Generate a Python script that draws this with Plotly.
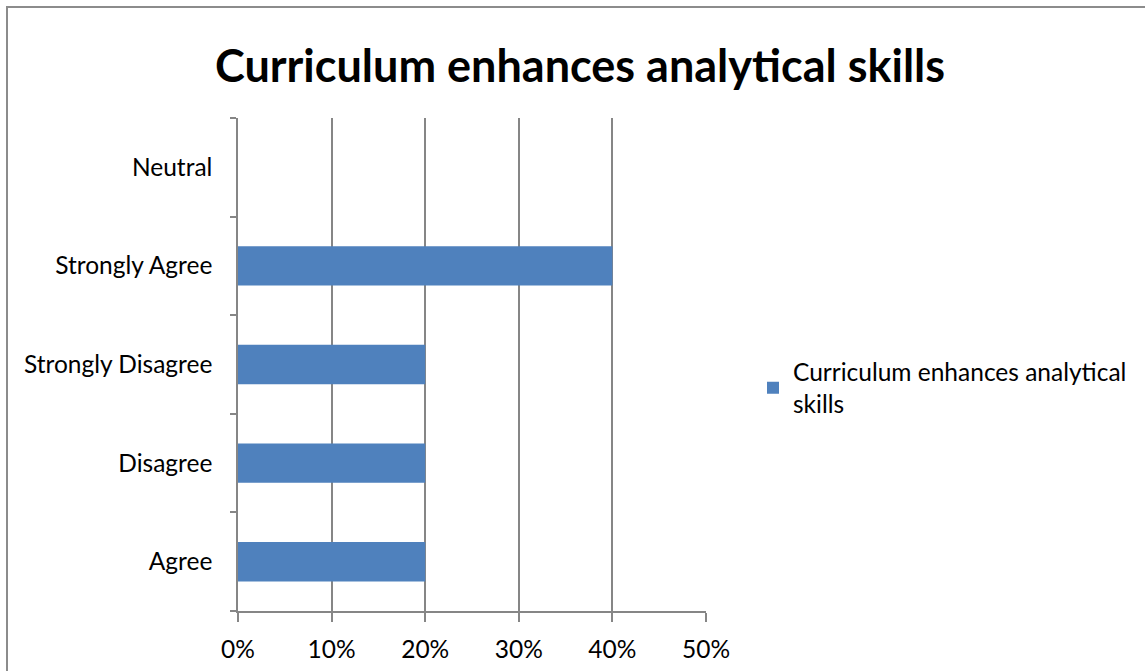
import plotly.graph_objects as go

categories = ["Agree", "Disagree", "Strongly Disagree", "Strongly Agree", "Neutral"]
values = [0.20, 0.20, 0.20, 0.40, 0.0]
series_name = "Curriculum enhances analytical skills"
x_ticks = [0, 0.1, 0.2, 0.3, 0.4, 0.5]

W, H = 1145, 671
L, R, T, B = 238, 1145 - 706, 118, 671 - 611
pw, ph = W - L - R, H - T - B

fig = go.Figure()
fig.add_trace(go.Bar(
    x=values, y=categories, orientation="h",
    name="Curriculum enhances analytical<br>skills",
    marker=dict(color="#4F81BD", line=dict(width=0)),
))

font_family = "Lato, Carlito, Calibri, sans-serif"
fig.update_layout(
    width=W, height=H,
    margin=dict(l=L, r=R, t=T, b=B, autoexpand=False),
    paper_bgcolor="white", plot_bgcolor="white",
    bargap=0.6,
    showlegend=True,
    font=dict(family=font_family, color="#000000", size=24.5),
    title=dict(text="<b>" + series_name + "</b>", x=580 / W, xref="container",
               xanchor="center", y=1 - 66 / H, yref="container", yanchor="middle",
               font=dict(size=45, family=font_family, color="#000000")),
    legend=dict(x=(753 - L) / pw, xanchor="left", y=(611 - 388) / ph, yanchor="middle",
                font=dict(size=24.5, family=font_family), bgcolor="rgba(0,0,0,0)",
                itemwidth=30, traceorder="normal"),
    xaxis=dict(range=[0, 0.5], tickvals=x_ticks, tickformat=".0%",
               showgrid=True, gridcolor="#868686", gridwidth=1.5,
               showline=True, linecolor="#868686", linewidth=1.5,
               ticks="outside", ticklen=9, tickcolor="#868686", tickwidth=1.5,
               ticklabelstandoff=7, zeroline=False, fixedrange=True,
               automargin=False, tickfont=dict(size=24.5)),
    yaxis=dict(categoryorder="array", categoryarray=categories,
               showgrid=False, showline=True, linecolor="#868686", linewidth=1.5,
               ticks="outside", tickson="boundaries", ticklen=6,
               tickcolor="#868686", tickwidth=1.5, ticklabelstandoff=19,
               zeroline=False, fixedrange=True, automargin=False,
               tickfont=dict(size=24.5)),
    shapes=[dict(type="rect", xref="paper", yref="paper",
                 x0=(7 - L) / pw, x1=(W + 40 - L) / pw,
                 y0=(H - B - 7) / ph, y1=(H - B - H - 40) / ph,
                 line=dict(color="#8C8C8C", width=2), fillcolor="rgba(0,0,0,0)",
                 layer="below")],
)

fig.write_html("out.html", config={"displayModeBar": False},
               post_script="document.body.style.margin='0';document.body.style.overflow='hidden';")
